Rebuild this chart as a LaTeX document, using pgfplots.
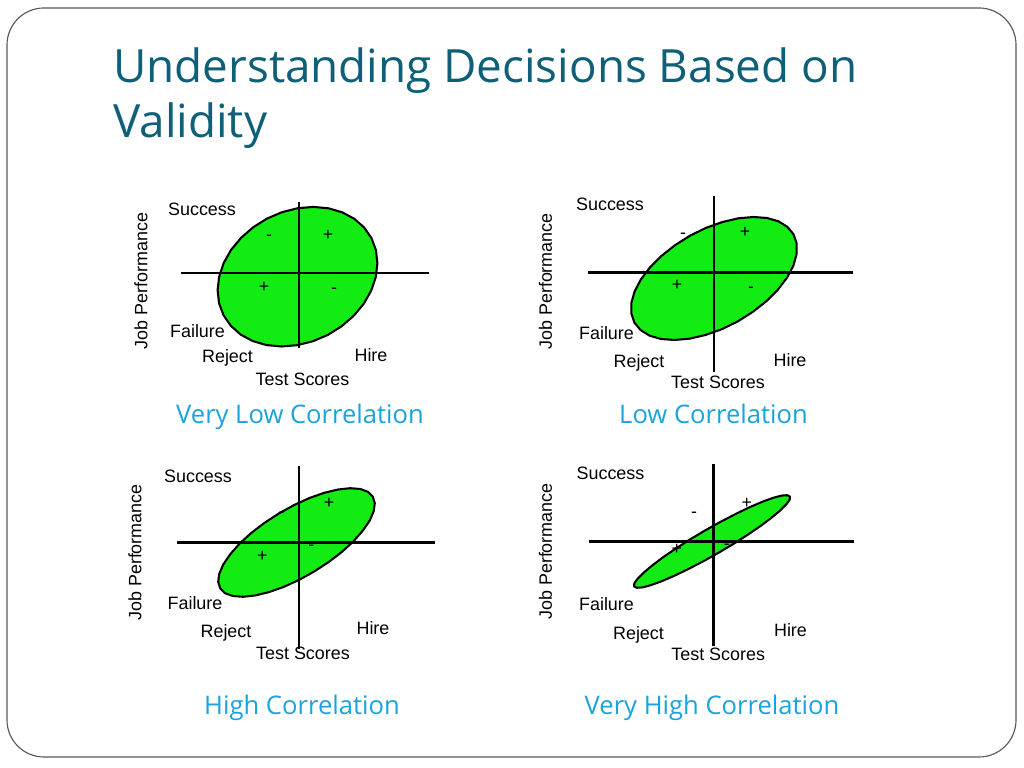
\documentclass[border=0pt]{standalone}
\usepackage{fontspec}
\setmainfont{Open Sans}
\newfontfamily\arialf{Liberation Sans}
\usepackage{pgfplots}
\usepackage{pgfplotstable}
\pgfplotsset{compat=1.18}

\definecolor{titlecol}{HTML}{0E5F78}
\definecolor{subcol}{HTML}{1AA3DC}
\definecolor{lgreen}{HTML}{12EC12}

% ellipse outlines, local pixel units, origin at the cross, y up
\pgfplotstableread{
x y
72.5 34.8
65.2 45.4
55.3 54.2
43.2 60.7
29.4 64.7
14.4 66.1
-1.2 64.8
-16.8 60.9
-31.8 54.5
-45.6 45.9
-57.8 35.3
-67.8 23.3
-75.2 10.2
-79.8 -3.4
-81.4 -17.0
-80.0 -30.1
-75.5 -42.2
-68.2 -52.8
-58.3 -61.6
-46.2 -68.1
-32.4 -72.1
-17.4 -73.5
-1.8 -72.2
13.8 -68.3
28.8 -61.9
42.6 -53.3
54.8 -42.7
64.8 -30.7
72.2 -17.6
76.8 -4.0
78.4 9.6
77.0 22.7
72.5 34.8
}\ellA

\pgfplotstableread{
x y
79.6 38.1
73.4 45.6
64.4 51.2
53.0 54.5
39.5 55.5
24.5 54.2
8.5 50.5
-7.8 44.7
-23.8 36.9
-38.8 27.4
-52.4 16.7
-64.0 5.1
-73.1 -6.9
-79.4 -18.9
-82.6 -30.4
-82.7 -40.9
-79.6 -50.1
-73.4 -57.6
-64.4 -63.2
-53.0 -66.5
-39.5 -67.5
-24.5 -66.2
-8.5 -62.5
7.8 -56.7
23.8 -48.9
38.8 -39.4
52.4 -28.7
64.0 -17.1
73.1 -5.1
79.4 6.9
82.6 18.4
82.7 28.9
79.6 38.1
}\ellB

\pgfplotstableread{
x y
73.8 45.8
68.9 50.7
61.3 53.5
51.2 54.3
39.1 53.0
25.3 49.7
10.5 44.5
-4.8 37.5
-20.0 29.1
-34.6 19.6
-47.9 9.4
-59.5 -1.2
-68.8 -11.8
-75.7 -21.9
-79.7 -31.2
-80.8 -39.3
-78.8 -45.8
-73.9 -50.7
-66.3 -53.5
-56.2 -54.3
-44.1 -53.0
-30.3 -49.7
-15.5 -44.5
-0.2 -37.5
15.0 -29.1
29.6 -19.6
42.9 -9.4
54.5 1.2
63.8 11.8
70.7 21.9
74.7 31.2
75.8 39.3
73.8 45.8
}\ellC

\pgfplotstableread{
x y
76.4 45.0
73.7 46.3
68.0 45.9
59.7 43.7
49.0 39.8
36.4 34.4
22.3 27.6
7.3 19.8
-8.0 11.3
-23.1 2.3
-37.3 -6.8
-50.2 -15.6
-61.2 -23.9
-69.9 -31.2
-76.0 -37.3
-79.2 -41.9
-79.4 -45.0
-76.7 -46.3
-71.0 -45.9
-62.7 -43.7
-52.0 -39.8
-39.4 -34.4
-25.3 -27.6
-10.3 -19.8
5.0 -11.3
20.1 -2.3
34.3 6.8
47.2 15.6
58.2 23.9
66.9 31.2
73.0 37.3
76.2 41.9
76.4 45.0
}\ellD

\pgfplotsset{
  quad/.style={
    axis lines=middle,
    axis line style={-, black, line width=1.45pt},
    xtick=\empty, ytick=\empty,
    x=0.703125pt, y=0.703125pt,
    enlargelimits=false,
    clip=false, axis on top,
    anchor=south west,
  },
  ell/.style={fill=lgreen, draw=black, line width=1.45pt,
    line join=round, line cap=round, mark=none},
}
\tikzset{
  lab/.style={font=\arialf\fontsize{12.6}{14}\selectfont, text=black, inner sep=0pt},
  sgn/.style={font=\arialf\fontsize{12.5}{14}\selectfont, text=black, inner sep=0pt},
  sub/.style={anchor=base, inner sep=0pt, text=subcol, font=\fontsize{18}{22}\selectfont},
}

\begin{document}
\begin{tikzpicture}
\path[use as bounding box, fill=white] (0,0) rectangle (720pt,540pt);
\draw[rounded corners=26pt, draw=black!65, line width=0.8pt]
  (4.92pt,7.73pt) rectangle (714.38pt,534.38pt);

\node[anchor=base west, inner sep=0pt, text=titlecol,
  font=\fontsize{32.2}{38}\selectfont] at (79.45pt,481.64pt)
  {Understanding Decisions Based on};
\node[anchor=base west, inner sep=0pt, text=titlecol,
  font=\fontsize{32.2}{38}\selectfont] at (79.45pt,442.97pt) {Validity};

% very low correlation
\begin{axis}[quad, at={(127.27pt,295.31pt)}, xmin=-118, xmax=130, ymin=-75, ymax=71]
\addplot[ell] table {\ellA};
\node[lab, anchor=base] at (axis cs:-97,57) {Success};
\node[lab, rotate=90] at (axis cs:-158,-8) {Job Performance};
\node[lab, anchor=base] at (axis cs:-101.5,-64.6) {Failure};
\node[lab, anchor=base] at (axis cs:-71.5,-90) {Reject};
\node[lab, anchor=base] at (axis cs:72,-89) {Hire};
\node[lab, anchor=base] at (axis cs:3.5,-113) {Test Scores};
\node[sgn] at (axis cs:-30,35) {-};
\node[sgn] at (axis cs:29,38) {+};
\node[sgn] at (axis cs:-35,-14) {+};
\node[sgn] at (axis cs:35,-18) {-};
\end{axis}

% low correlation
\begin{axis}[quad, at={(413.44pt,278.09pt)}, xmin=-126, xmax=139, ymin=-100, ymax=76]
\addplot[ell] table {\ellB};
\node[lab, anchor=base] at (axis cs:-104,61.7) {Success};
\node[lab, rotate=90] at (axis cs:-168.5,-9) {Job Performance};
\node[lab, anchor=base] at (axis cs:-107.5,-67.5) {Failure};
\node[lab, anchor=base] at (axis cs:-75,-95) {Reject};
\node[lab, anchor=base] at (axis cs:76,-94) {Hire};
\node[lab, anchor=base] at (axis cs:4,-116) {Test Scores};
\node[sgn] at (axis cs:-31,37) {-};
\node[sgn] at (axis cs:31,40) {+};
\node[sgn] at (axis cs:-37,-13) {+};
\node[sgn] at (axis cs:37,-17.7) {-};
\end{axis}

% high correlation
\begin{axis}[quad, at={(124.45pt,83.32pt)}, xmin=-122, xmax=136, ymin=-107, ymax=76]
\addplot[ell] table {\ellC};
\node[lab, anchor=base] at (axis cs:-101,60) {Success};
\node[lab, rotate=90] at (axis cs:-164,-10) {Job Performance};
\node[lab, anchor=base] at (axis cs:-104,-66.6) {Failure};
\node[lab, anchor=base] at (axis cs:-73,-95) {Reject};
\node[lab, anchor=base] at (axis cs:74,-92) {Hire};
\node[lab, anchor=base] at (axis cs:4,-116.7) {Test Scores};
\node[sgn] at (axis cs:30,39.4) {+};
\node[sgn] at (axis cs:-36.6,-14) {+};
\node[sgn] at (axis cs:-17.6,27.4) {-};
\node[sgn] at (axis cs:12.4,-5.5) {-};
\end{axis}

% very high correlation
\begin{axis}[quad, at={(413.79pt,85.43pt)}, xmin=-125, xmax=140, ymin=-105, ymax=77]
\addplot[ell] table {\ellD};
\node[lab, anchor=base] at (axis cs:-103,62.4) {Success};
\node[lab, rotate=90] at (axis cs:-168,-10) {Job Performance};
\node[lab, anchor=base] at (axis cs:-107,-69) {Failure};
\node[lab, anchor=base] at (axis cs:-75,-97.6) {Reject};
\node[lab, anchor=base] at (axis cs:77,-95) {Hire};
\node[lab, anchor=base] at (axis cs:4.7,-119.3) {Test Scores};
\node[sgn] at (axis cs:-19.3,27) {-};
\node[sgn] at (axis cs:33.3,38.3) {+};
\node[sgn] at (axis cs:-36.7,-8.3) {+};
\node[sgn] at (axis cs:13.3,-5.5) {-};
\end{axis}

\node[sub] at (210.94pt,242.3pt) {Very Low Correlation};
\node[sub] at (501.68pt,242.3pt) {Low Correlation};
\node[sub] at (212.34pt,37.8pt) {High Correlation};
\node[sub] at (500.63pt,37.8pt) {Very High Correlation};
\end{tikzpicture}
\end{document}
